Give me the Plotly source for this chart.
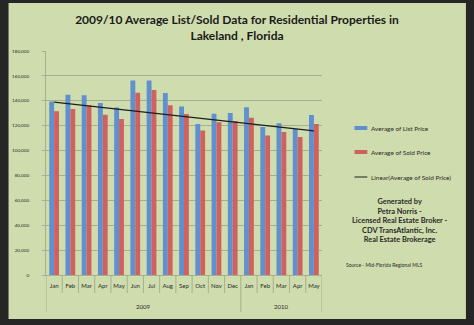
import numpy as np
import plotly.graph_objects as go

# Monthly averages, Lakeland FL residential properties
years = ["2009"] * 12 + ["2010"] * 5
months = ["Jan", "Feb", "Mar", "Apr", "May", "Jun", "Jul", "Aug", "Sep", "Oct", "Nov", "Dec",
          "Jan", "Feb", "Mar", "Apr", "May"]
list_price = [139500, 144800, 144500, 138200, 134500, 156300, 156300, 146200, 135400,
              121300, 129600, 130200, 134700, 119000, 121900, 117600, 128600]
sold_price = [131500, 133400, 136400, 128800, 125400, 146500, 148700, 136500, 129300,
              116200, 122700, 123800, 126400, 112000, 115000, 110900, 121300]

list_name = "Average of List Price"
sold_name = "Average of Sold Price"
trend_name = "Linear(Average of Sold Price)"
credit_lines = ["Generated by", "Petra Norris -", "Licensed Real Estate Broker -",
                "CDV TransAtlantic, Inc.", "Real Estate Brokerage"]
source_text = "Source - Mid-Florida Regional MLS"

idx = np.arange(len(months))

# least-squares trend of the sold prices
slope, intercept = np.polyfit(idx, sold_price, 1)
trend = slope * idx + intercept

W, H = 474, 325
L, R, T, B = 42, 152, 51, 50
PW, PH = W - L - R, H - T - B

def px(x):
    return (x - L) / PW

def py(y):
    return (H - B - y) / PH

BLUE = "#5f90cf"
RED = "#cf625e"
GREEN = "#cfdcad"
GRID = "#a6b08e"
TXT = "#2a2a2a"
FONT = "Lato, 'Open Sans', sans-serif"

fig = go.Figure()
fig.add_trace(go.Bar(x=idx, y=list_price, name=list_name, marker_color=BLUE,
                     marker_line_width=0, showlegend=False))
fig.add_trace(go.Bar(x=idx, y=sold_price, name=sold_name, marker_color=RED,
                     marker_line_width=0, showlegend=False))
fig.add_trace(go.Scatter(x=idx, y=trend, name=trend_name, mode="lines",
                         line=dict(color="#1e1e1e", width=1.2), showlegend=False))

shapes = [
    # green panel inside the dark frame
    dict(type="rect", xref="paper", yref="paper", layer="below",
         x0=px(4), x1=px(468), y0=py(319), y1=py(3),
         fillcolor=GREEN, line_width=0),
]
annotations = []

# two-level category axis: month cells, then year groups underneath
year_names = list(dict.fromkeys(years))
year_bounds = [-0.5]
for yname in year_names:
    members = [i for i, yv in enumerate(years) if yv == yname]
    year_bounds.append(members[-1] + 0.5)
    annotations.append(dict(text=yname, xref="x", yref="paper",
                            x=(members[0] + members[-1]) / 2, y=py(306),
                            xanchor="center", yanchor="middle", showarrow=False,
                            font=dict(family=FONT, size=6, color=TXT)))
for i in range(len(months) + 1):
    xb = i - 0.5
    bottom = 312 if xb in year_bounds else 293
    shapes.append(dict(type="line", xref="x", yref="paper",
                       x0=xb, x1=xb, y0=0, y1=py(bottom),
                       line=dict(color=GRID, width=1)))

# hand-built legend
legend_rows = [(list_name, BLUE, "bar", 128), (sold_name, RED, "bar", 152),
               (trend_name, "#1e1e1e", "line", 177)]
for name, color, kind, yy in legend_rows:
    if kind == "bar":
        shapes.append(dict(type="rect", xref="paper", yref="paper",
                           x0=px(355), x1=px(368), y0=py(yy + 2), y1=py(yy - 2),
                           fillcolor=color, line_width=0))
    else:
        shapes.append(dict(type="line", xref="paper", yref="paper",
                           x0=px(355), x1=px(368), y0=py(yy), y1=py(yy),
                           line=dict(color=color, width=1)))
    annotations.append(dict(text=name, xref="paper", yref="paper", x=px(370), y=py(yy),
                            xanchor="left", yanchor="middle", showarrow=False,
                            font=dict(family=FONT, size=6.4, color=TXT)))

annotations.append(dict(text="<b>" + "<br>".join(credit_lines) + "</b>",
                        xref="paper", yref="paper", x=px(401), y=py(220),
                        xanchor="center", yanchor="middle", align="center",
                        showarrow=False, font=dict(family=FONT, size=7.4, color=TXT)))
annotations.append(dict(text=source_text, xref="paper", yref="paper", x=px(344), y=py(265),
                        xanchor="left", yanchor="middle", showarrow=False,
                        font=dict(family=FONT, size=5.0, color=TXT)))

fig.update_layout(
    width=W, height=H,
    margin=dict(l=L, r=R, t=T, b=B, pad=0),
    paper_bgcolor="#262626",
    plot_bgcolor="rgba(0,0,0,0)",
    barmode="group", bargap=0.4, bargroupgap=0,
    title=dict(text="<b>2009/10 Average List/Sold Data for Residential Properties in<br>Lakeland , Florida</b>",
               x=0.5, xref="container", y=1 - 24 / H, yref="container",
               xanchor="center", yanchor="middle",
               font=dict(family=FONT, size=12.0, color="#1a1a1a")),
    font=dict(family=FONT, color=TXT),
    shapes=shapes,
    annotations=annotations,
    showlegend=False,
)

fig.update_yaxes(range=[0, 180000], dtick=20000, tickformat=",",
                 showgrid=True, gridcolor=GRID, gridwidth=1,
                 showline=True, linecolor=GRID, linewidth=1,
                 ticks="outside", ticklen=3, tickcolor=GRID, ticklabelstandoff=12,
                 tickfont=dict(size=4.6, color=TXT), zeroline=False)
fig.update_xaxes(range=[-0.5, len(months) - 0.5], tickmode="array",
                 tickvals=idx, ticktext=months, tickangle=0, ticks="",
                 ticklabelstandoff=5,
                 showline=True, linecolor=GRID, linewidth=1,
                 tickfont=dict(size=6, color=TXT), showgrid=False, zeroline=False)

fig.write_html("out.html")
